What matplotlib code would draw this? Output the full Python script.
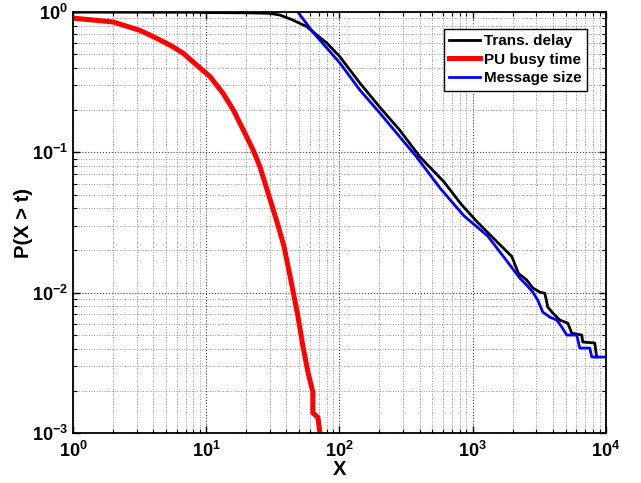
import math
import matplotlib
matplotlib.use('Agg')
import matplotlib.pyplot as plt
from matplotlib.ticker import LogLocator, FuncFormatter, NullFormatter

plt.rcParams['font.family'] = ['Liberation Sans', 'DejaVu Sans']
plt.rcParams['font.weight'] = 'bold'
plt.rcParams['mathtext.fontset'] = 'custom'
plt.rcParams['mathtext.rm'] = 'Liberation Sans:bold'
plt.rcParams['mathtext.bf'] = 'Liberation Sans:bold'
plt.rcParams['mathtext.it'] = 'Liberation Sans:bold:italic'
plt.rcParams['mathtext.default'] = 'bf'

# CCDF of PU busy time
busy_x = [1.0, 2.0, 3.18, 3.78, 5.35, 6.73, 8.48, 10.7, 13.4, 16.0, 19.0, 22.5, 25.3,
          26.9, 34.0, 38.3, 43.2, 48.5, 53.0, 58.0, 63.2, 63.2, 69.0, 71.4]
busy_y = [0.906, 0.85, 0.74, 0.686, 0.582, 0.508, 0.419, 0.346, 0.263, 0.2, 0.144,
          0.104, 0.079, 0.0656, 0.0319, 0.0215, 0.0123, 0.00703, 0.00424, 0.00272,
          0.00196, 0.00139, 0.00129, 0.001]

# CCDF of transmission delay
delay_x = [1.0, 8.0, 10.1, 21.3, 30.1, 35.8, 44.8, 57.0, 63.2, 80.5, 100.9, 142.5, 201,
           284, 402, 608, 817, 1094, 1468, 1971, 2213, 2553, 2833, 3198, 3487, 3672,
           4003, 4516, 5186, 5557, 6604, 6718, 8267, 8554]
delay_y = [0.999, 0.997, 0.992, 0.987, 0.979, 0.952, 0.877, 0.786, 0.724, 0.601, 0.48,
           0.312, 0.21, 0.144, 0.093, 0.0618, 0.043, 0.0316, 0.0239, 0.0181, 0.0137,
           0.0123, 0.0108, 0.0101, 0.0099, 0.00789, 0.00716, 0.00638, 0.00607, 0.00515,
           0.00499, 0.00445, 0.00438, 0.00348]

# CCDF of message size
size_x = [48.8, 63.2, 80.5, 100.9, 142.5, 201, 284, 379, 573, 859, 1301, 1854, 2263,
          2553, 2833, 3088, 3366, 3800, 4288, 4674, 5096, 6058, 6382, 7586, 7852, 10000]
size_y = [1.0, 0.72, 0.554, 0.433, 0.278, 0.191, 0.129, 0.093, 0.0553, 0.0354, 0.0253,
          0.0163, 0.0127, 0.0113, 0.0101, 0.00885, 0.00727, 0.0067, 0.00638, 0.00569,
          0.00499, 0.00499, 0.00403, 0.00403, 0.00348, 0.00348]

fig = plt.figure(figsize=(6.41, 4.83), dpi=100)
ax = fig.add_axes([0.114, 0.1035, 0.831, 0.8715])

ax.plot(delay_x, delay_y, color='black', lw=2.0, label='Trans. delay')
ax.plot(busy_x, busy_y, color='red', lw=3.6, label='PU busy time')
ax.plot(size_x, size_y, color='blue', lw=2.0, label='Message size')

ax.set_xscale('log')
ax.set_yscale('log')
ax.set_xlim(1, 1e4)
ax.set_ylim(1e-3, 1)

fmt = FuncFormatter(lambda v, p: r'$10^{%d}$' % round(math.log10(v)))
ax.xaxis.set_major_locator(LogLocator(base=10, numticks=10))
ax.yaxis.set_major_locator(LogLocator(base=10, numticks=10))
ax.xaxis.set_minor_locator(LogLocator(base=10, subs=range(2, 10), numticks=20))
ax.yaxis.set_minor_locator(LogLocator(base=10, subs=range(2, 10), numticks=20))
ax.xaxis.set_major_formatter(fmt)
ax.yaxis.set_major_formatter(fmt)
ax.xaxis.set_minor_formatter(NullFormatter())
ax.yaxis.set_minor_formatter(NullFormatter())

ax.grid(True, which='major', linestyle=':', color='#444444', lw=0.8)
ax.grid(True, which='minor', linestyle=':', color='#999999', lw=0.7)
ax.tick_params(which='both', direction='in', top=True, right=True, labelsize=13)
ax.tick_params(which='major', length=5, width=1)
ax.tick_params(which='minor', length=3, width=0.8)
ax.tick_params(axis='x', which='major', pad=6)
for s in ax.spines.values():
    s.set_linewidth(1.3)

ax.set_xlabel('X', fontsize=14.5, fontweight='bold', labelpad=-1)
ax.set_ylabel('P(X > t)', fontsize=14.5, fontweight='bold', labelpad=-1)

leg = ax.legend(loc='upper right', bbox_to_anchor=(0.965, 0.96), fancybox=False,
                edgecolor='black', framealpha=1, fontsize=11, handlelength=2.0,
                handletextpad=0.3, borderpad=0.35, labelspacing=0.3, borderaxespad=0)
leg.get_frame().set_linewidth(1.0)
for t in leg.get_texts():
    t.set_fontweight('bold')

fig.savefig('out.png', dpi=100)
